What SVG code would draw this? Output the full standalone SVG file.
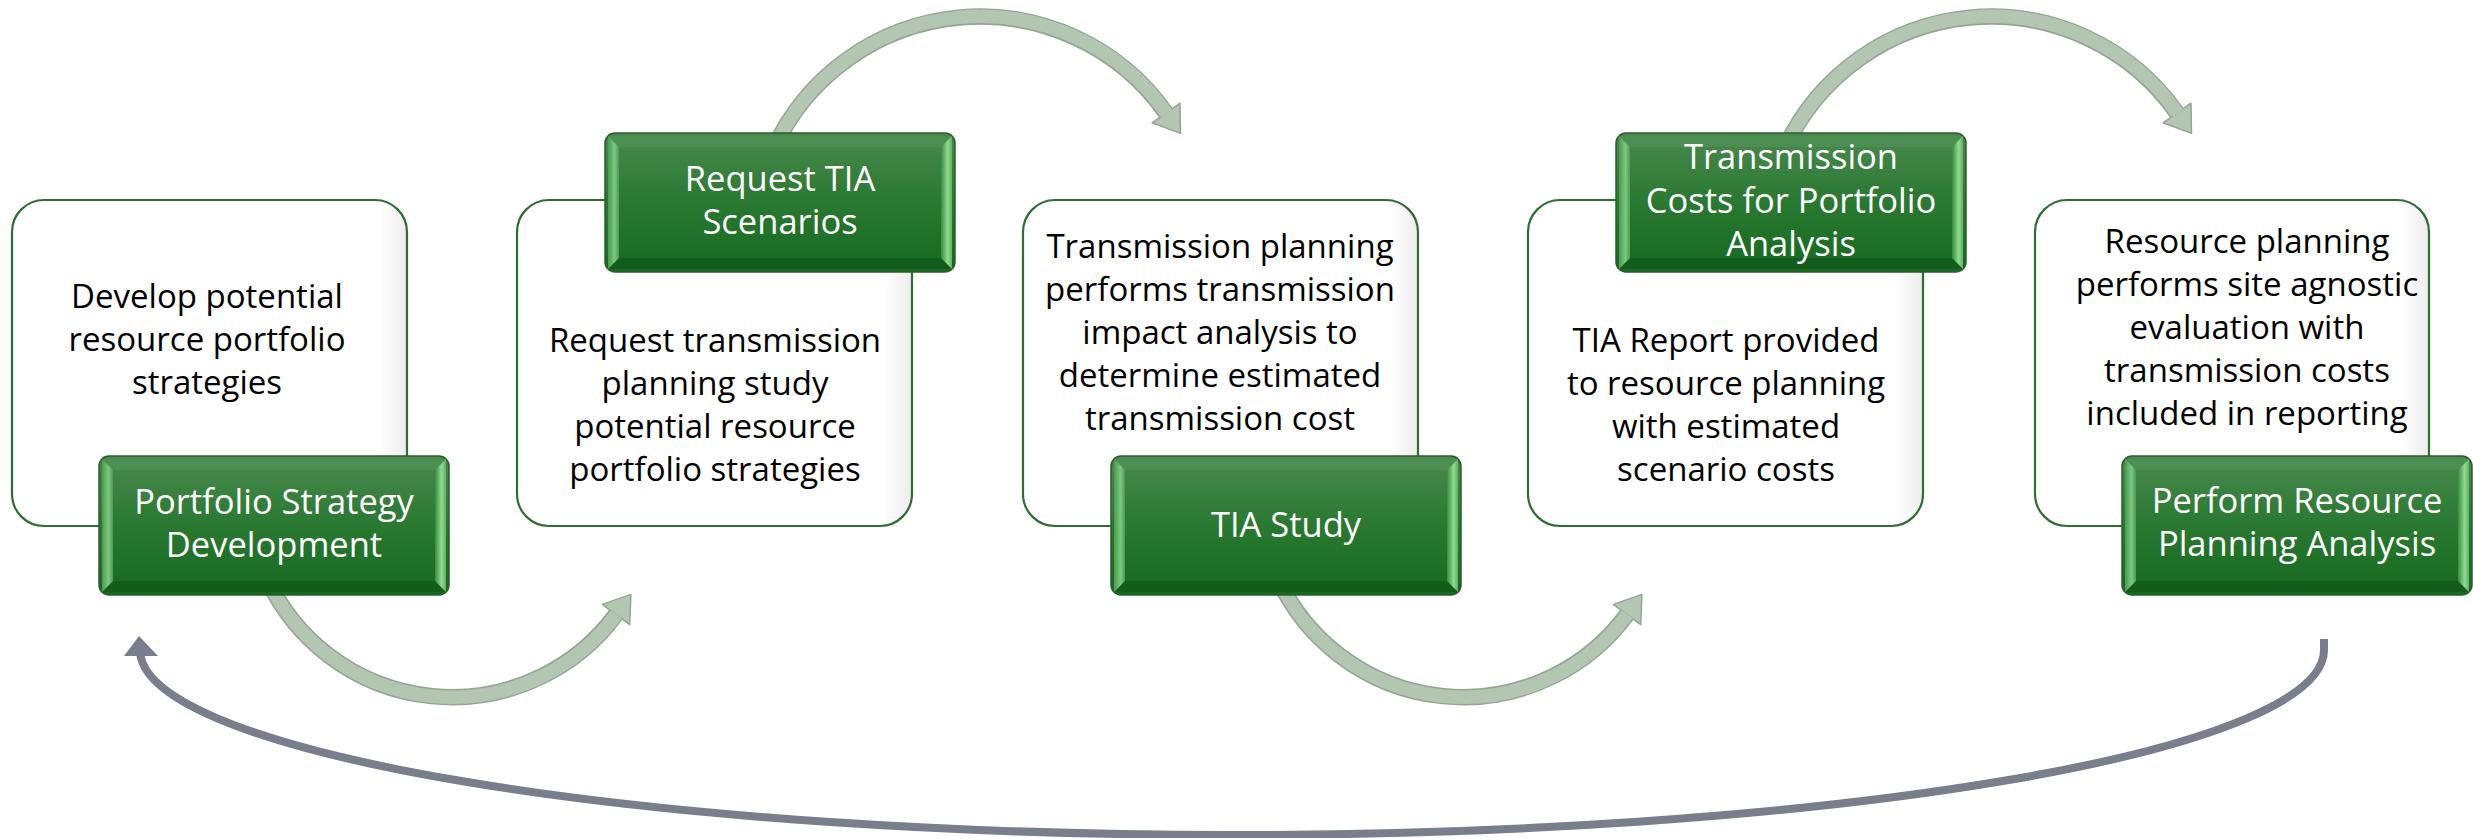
<svg xmlns="http://www.w3.org/2000/svg" xmlns:xlink="http://www.w3.org/1999/xlink" width="2473" height="838" viewBox="0 0 2473 838">
  <defs>
    <style>
      .card { fill: url(#cardFill); stroke: #2f6e33; stroke-width: 2.2; }
      .body { font-family: "Open Sans", "Noto Sans", "Liberation Sans", sans-serif; font-size: 33px; fill: #000000; text-anchor: middle; }
      .head { font-family: "Open Sans", "Noto Sans", "Liberation Sans", sans-serif; font-size: 34.5px; fill: #ffffff; text-anchor: middle; }
      .band-edge { fill: none; stroke: #92a692; stroke-width: 16.5; }
      .band { fill: none; stroke: #b2c6b1; stroke-width: 13.5; }
      .tip { fill: #b2c6b1; stroke: #92a692; stroke-width: 1.5; stroke-linejoin: round; }
      .loop { fill: none; stroke: #787e8c; stroke-width: 8; }
      .loop-tip { fill: #787e8c; }
    </style>
    <linearGradient id="cardFill" x1="0" y1="0" x2="1" y2="0">
      <stop offset="0" stop-color="#ffffff"/>
      <stop offset="0.93" stop-color="#ffffff"/>
      <stop offset="1" stop-color="#ececec"/>
    </linearGradient>
    <linearGradient id="tabFill" x1="0" y1="0" x2="0" y2="1">
      <stop offset="0" stop-color="#4a8a4f"/>
      <stop offset="0.45" stop-color="#2c7a33"/>
      <stop offset="1" stop-color="#156a1f"/>
    </linearGradient>
    <linearGradient id="tabLeft" x1="0" y1="0" x2="1" y2="0">
      <stop offset="0" stop-color="#4b9a51"/>
      <stop offset="0.6" stop-color="#7cc880"/>
      <stop offset="1" stop-color="#4e9a54"/>
    </linearGradient>
    <linearGradient id="tabRight" x1="0" y1="0" x2="1" y2="0">
      <stop offset="0" stop-color="#3a8a40"/>
      <stop offset="0.6" stop-color="#8fdc90"/>
      <stop offset="1" stop-color="#5fb064"/>
    </linearGradient>

    <!-- bevelled green title tab, 350 x 139 -->
    <g id="tab">
      <rect x="0" y="0" width="350" height="139" rx="10" fill="url(#tabFill)" stroke="#2c5c2e" stroke-width="1.5"/>
      <polygon points="3,3 347,3 336,14 14,14" fill="#4f9054" opacity="0.8"/>
      <polygon points="3,136 14,125 336,125 347,136" fill="#125a1b" opacity="0.8"/>
      <polygon points="3,3 14,14 14,125 3,136" fill="url(#tabLeft)"/>
      <polygon points="347,3 336,14 336,125 347,136" fill="url(#tabRight)"/>
    </g>

    <!-- upper curved arrow -->
    <g id="arcOver">
      <path class="band-edge" d="M 773 150 A 227.5 227.5 0 0 1 1166 113"/>
      <polygon class="tip" points="1180,103.2 1152.1,122.8 1180.5,133.4"/>
      <path class="band" d="M 773 150 A 227.5 227.5 0 0 1 1166.5 113.3"/>
    </g>

    <!-- lower curved arrow -->
    <g id="arcUnder">
      <path class="band-edge" d="M 267.7 580 A 203.8 203.8 0 0 0 616 614.5"/>
      <polygon class="tip" points="629.7,624.6 602.3,604.4 630.9,594.4"/>
      <path class="band" d="M 267.7 580 A 203.8 203.8 0 0 0 616.4 614.2"/>
    </g>
  </defs>

  <rect x="0" y="0" width="2473" height="838" fill="#ffffff"/>

  <!-- connectors -->
  <g id="connectors">
    <use xlink:href="#arcUnder"/>
    <use xlink:href="#arcOver"/>
    <use xlink:href="#arcUnder" transform="translate(1011,0)"/>
    <use xlink:href="#arcOver" transform="translate(1011,0)"/>
    <path class="loop" d="M 2324 639 L 2324 650 A 1092 185 0 0 1 1232 835 A 1092 185 0 0 1 140 650 L 140 656"/>
    <polygon class="loop-tip" points="139,636 124,656 158,656"/>
  </g>

  <!-- step 1 -->
  <g id="step1">
    <rect class="card" x="12" y="200" width="395" height="326" rx="32"/>
    <text class="body" x="207" y="308">Develop potential<tspan x="207" dy="43">resource portfolio</tspan><tspan x="207" dy="43">strategies</tspan></text>
    <use xlink:href="#tab" x="99" y="456"/>
    <text class="head" x="274" y="514">Portfolio Strategy<tspan x="274" dy="43">Development</tspan></text>
  </g>

  <!-- step 2 -->
  <g id="step2">
    <rect class="card" x="517" y="200" width="395" height="326" rx="32"/>
    <text class="body" x="715" y="352">Request transmission<tspan x="715" dy="43">planning study</tspan><tspan x="715" dy="43">potential resource</tspan><tspan x="715" dy="43">portfolio strategies</tspan></text>
    <use xlink:href="#tab" x="605" y="133"/>
    <text class="head" x="780" y="191">Request TIA<tspan x="780" dy="43">Scenarios</tspan></text>
  </g>

  <!-- step 3 -->
  <g id="step3">
    <rect class="card" x="1023" y="200" width="395" height="326" rx="32"/>
    <text class="body" x="1220" y="258">Transmission planning<tspan x="1220" dy="43">performs transmission</tspan><tspan x="1220" dy="43">impact analysis to</tspan><tspan x="1220" dy="43">determine estimated</tspan><tspan x="1220" dy="43">transmission cost</tspan></text>
    <use xlink:href="#tab" x="1111" y="456"/>
    <text class="head" x="1286" y="537">TIA Study</text>
  </g>

  <!-- step 4 -->
  <g id="step4">
    <rect class="card" x="1528" y="200" width="395" height="326" rx="32"/>
    <text class="body" x="1726" y="352">TIA Report provided<tspan x="1726" dy="43">to resource planning</tspan><tspan x="1726" dy="43">with estimated</tspan><tspan x="1726" dy="43">scenario costs</tspan></text>
    <use xlink:href="#tab" x="1616" y="133"/>
    <text class="head" x="1791" y="169">Transmission<tspan x="1791" dy="43.5">Costs for Portfolio</tspan><tspan x="1791" dy="43.5">Analysis</tspan></text>
  </g>

  <!-- step 5 -->
  <g id="step5">
    <rect class="card" x="2035" y="200" width="394" height="326" rx="32"/>
    <text class="body" x="2247" y="253">Resource planning<tspan x="2247" dy="43">performs site agnostic</tspan><tspan x="2247" dy="43">evaluation with</tspan><tspan x="2247" dy="43">transmission costs</tspan><tspan x="2247" dy="43">included in reporting</tspan></text>
    <use xlink:href="#tab" x="2122" y="456"/>
    <text class="head" x="2297" y="513">Perform Resource<tspan x="2297" dy="43">Planning Analysis</tspan></text>
  </g>
</svg>
